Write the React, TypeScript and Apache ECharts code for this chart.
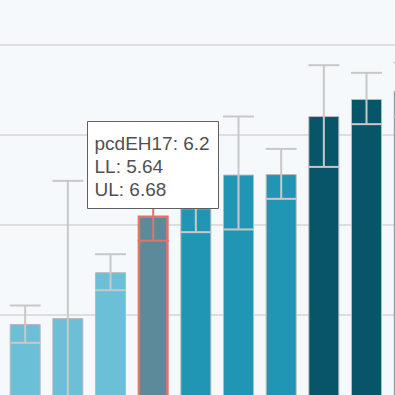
import React, { useEffect, useRef } from "react";
import * as echarts from "echarts";

const categories = ["pcdEH14", "pcdEH15", "pcdEH16", "pcdEH17", "pcdEH12", "pcdEH13", "pcdEH11", "pcdEH10", "pcdEH9", "pcdEH8"];
const values = [3.79, 3.92, 4.94, 6.2, 6.36, 7.11, 7.12, 8.41, 8.79, 8.97];
const lowerLimits = [3.37, 1.9, 4.54, 5.64, 5.83, 5.89, 6.57, 7.28, 8.23, 8.4];
const upperLimits = [4.2, 6.97, 5.34, 6.68, 6.9, 8.4, 7.68, 9.54, 9.37, 9.6];
const colourGroups = ["light", "light", "light", "light", "mid", "mid", "mid", "dark", "dark", "dark"];
const highlightedIndex = 3;

const groupColours: Record<string, string> = {
  light: "#6bc0d8",
  mid: "#2096b4",
  dark: "#075568",
};
const highlightFill = "#5c8a9b";
const highlightStroke = "#e0746b";
const BG = "#f6f9fc";
const OFFSET_TOP = 60;
const FONT = "19px 'Liberation Sans', Arial, sans-serif";

export default function App() {
  const ref = useRef<HTMLDivElement>(null);
  useEffect(() => {
    if (!ref.current) return;
    const chart = echarts.init(ref.current, undefined, { renderer: "svg" });
    const barData = values.map((v, i) => ({
      value: [i + 1, v],
      itemStyle:
        i === highlightedIndex
          ? { color: highlightFill, borderColor: highlightStroke, borderWidth: 2.5 }
          : { color: groupColours[colourGroups[i]], borderColor: "#b9b9b9", borderWidth: 1 },
    }));
    const errData = values.map((_, i) => [i + 1, lowerLimits[i], upperLimits[i], i === highlightedIndex ? 1 : 0]);
    const hi = highlightedIndex;
    const tipLines = [
      `${categories[hi]}: ${values[hi]}`,
      `LL: ${lowerLimits[hi]}`,
      `UL: ${upperLimits[hi]}`,
    ];
    const lineYs = [143.5, 166.5, 189];
    chart.setOption({
      animation: false,
      backgroundColor: BG,
      grid: { left: 0, top: 14.5, width: 480, height: 540, containLabel: false },
      xAxis: {
        type: "value",
        min: 0.41,
        max: 11.66,
        show: false,
        splitLine: { show: false },
      },
      yAxis: {
        type: "value",
        min: 0,
        max: 12,
        interval: 2,
        axisLabel: { show: false },
        axisLine: { show: false },
        axisTick: { show: false },
        splitLine: { show: true, lineStyle: { color: "#d5d5d5", width: 1.5 } },
      },
      series: [
        {
          type: "bar",
          barWidth: 31,
          data: barData,
          z: 2,
        },
        {
          type: "custom",
          z: 3,
          encode: { x: 0, y: [1, 2] },
          data: errData,
          renderItem: (params: any, api: any) => {
            const x = api.value(0);
            const lo = api.coord([x, api.value(1)]);
            const up = api.coord([x, api.value(2)]);
            const half = 15.5;
            const stroke = api.value(3) === 1 ? highlightStroke : "#c8c8c8";
            const style = { stroke, lineWidth: 2 };
            return {
              type: "group",
              children: [
                { type: "line", shape: { x1: lo[0], y1: lo[1], x2: up[0], y2: up[1] }, style },
                { type: "line", shape: { x1: up[0] - half, y1: up[1], x2: up[0] + half, y2: up[1] }, style },
                { type: "line", shape: { x1: lo[0] - half, y1: lo[1], x2: lo[0] + half, y2: lo[1] }, style },
              ],
            };
          },
        },
      ],
      graphic: [
        {
          type: "rect",
          z: 100,
          shape: { x: 87.5, y: 121.5 + OFFSET_TOP, width: 131, height: 87 },
          style: { fill: "#ffffff", stroke: "#5f5f5f", lineWidth: 1 },
        },
        ...tipLines.map((t, k) => ({
          type: "text",
          z: 101,
          x: 94.5,
          y: lineYs[k] + OFFSET_TOP,
          style: {
            text: t,
            font: FONT,
            fill: "#505050",
            textVerticalAlign: "middle",
            textAlign: "left",
          },
        })),
      ],
    });
    return () => chart.dispose();
  }, []);
  return (
    <div
      style={{
        position: "fixed",
        left: 0,
        top: 0,
        width: 395,
        height: 395,
        overflow: "hidden",
        background: BG,
      }}
    >
      <div
        ref={ref}
        style={{ position: "absolute", left: 0, top: -OFFSET_TOP, width: 480, height: 600 }}
      />
    </div>
  );
}
